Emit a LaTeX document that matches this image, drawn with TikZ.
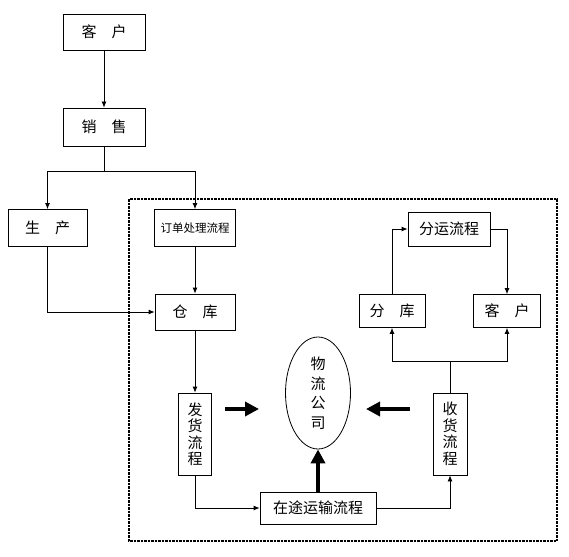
\documentclass[tikz,border=0pt]{standalone}
\usepackage{fontspec}
\newfontfamily\cjk{Noto Sans CJK SC}
\usetikzlibrary{positioning,shapes.geometric,arrows.meta,calc}

\begin{document}
\begin{tikzpicture}[x=1pt, y=-1pt,
		% Box styles
		box/.style={rectangle, draw=black, line width=0.8pt, inner sep=0pt,
			font=\cjk\fontsize{15}{17}\selectfont, text centered},
		vbox/.style={box, align=center, font=\cjk\fontsize{15}{16.5}\selectfont},
		company/.style={ellipse, draw=black, line width=0.8pt, inner sep=0pt,
			align=center, font=\cjk\fontsize{15}{19.5}\selectfont},
		% Arrow styles
		arrow/.style={-{Latex[length=6pt,width=5pt]}, line width=0.8pt},
		line/.style={line width=0.8pt},
		thickarrow/.style={-{Triangle[length=14pt,width=14pt]}, line width=4.5pt},
		frame/.style={line width=2.5pt, dash pattern=on 2.5pt off 1pt}
		]
		\useasboundingbox (0,0) rectangle (569,556);
		
		% Outer frame
		\draw[frame] (129,199) rectangle (557,541);
		
		% Sales side
		\node[box, minimum width=82, minimum height=36] (cust1) at (104,32) {客\hspace{1em}户};
		\node[box, minimum width=82, minimum height=38] (sales) at (104,127) {销\hspace{1em}售};
		\node[box, minimum width=79, minimum height=37] (prod) at (47.5,228) {生\hspace{1em}产};
		\node[box, minimum width=81, minimum height=37, font=\cjk\fontsize{11.5}{13}\selectfont] (order) at (195,228) {订单处理流程};
		\node[box, minimum width=80, minimum height=36] (store) at (195,312) {仓\hspace{1em}库};
		
		% Shipping
		\node[vbox, minimum width=33, minimum height=82] (ship) at (195,434) {发\\货\\流\\程};
		\node[company, minimum width=65, minimum height=112] (comp) at (318,393) {物\\流\\公\\司};
		\node[box, minimum width=116, minimum height=32] (transit) at (318,508) {在途运输流程};
		\node[vbox, minimum width=34, minimum height=82] (recv) at (450,434) {收\\货\\流\\程};
		
		% Receiving side
		\node[box, minimum width=66, minimum height=33] (subwh) at (392,311) {分\hspace{1em}库};
		\node[box, minimum width=67, minimum height=33] (cust2) at (507,311) {客\hspace{1em}户};
		\node[box, minimum width=82, minimum height=34] (dist) at (449,229) {分运流程};
		
		% Junctions
		\coordinate (split1) at (104,171);
		\coordinate (split2) at (450,361);
		\coordinate (lfrom) at (225,409);
		\coordinate (lto) at (259,409);
		\coordinate (rfrom) at (410,409);
		\coordinate (rto) at (366,409);
		
		% Arrows - order path
		\draw[arrow] (cust1) -- (sales);
		\draw[line] (sales) -- (split1);
		\draw[arrow] (split1) -| (prod);
		\draw[arrow] (split1) -| (order);
		\draw[arrow] (prod) |- (store);
		\draw[arrow] (order) -- (store);
		\draw[arrow] (store) -- (ship);
		
		% Arrows - transport
		\draw[arrow] (ship) |- (transit);
		\draw[arrow] (transit) -| (recv);
		\draw[line] (recv) -- (split2);
		\draw[arrow] (split2) -| (subwh);
		\draw[arrow] (split2) -| (cust2);
		\draw[arrow] (subwh) |- (dist);
		\draw[arrow] (dist) -| (cust2);
		
		% Thick arrows to company
		\draw[thickarrow] (lfrom) -- (lto);
		\draw[thickarrow] (rfrom) -- (rto);
		\draw[thickarrow] (transit) -- (comp);
		
	\end{tikzpicture}
\end{document}
